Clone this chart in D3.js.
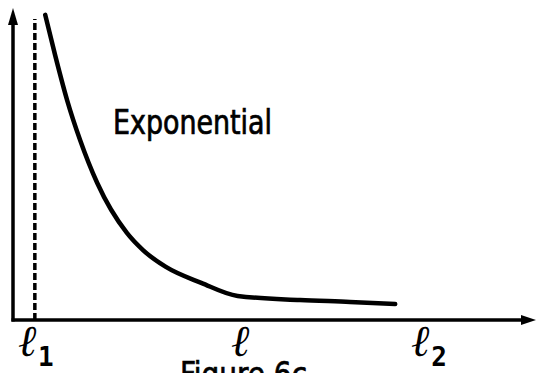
<!DOCTYPE html>
<html>
<head>
<meta charset="utf-8">
<script src="https://cdn.jsdelivr.net/npm/d3@7"></script>
<style>
  html, body { margin: 0; padding: 0; background: #fff; }
  svg { display: block; }
</style>
</head>
<body>
<svg id="chart" width="537" height="373"></svg>
<script>
// Sketch of an exponentially decaying distribution between l1 and l2
const curveX = [6.2, 8.1, 10.4, 12.9, 16.2, 21.9, 25.0, 29.4, 36.2, 43.2, 55.2, 64.8, 73.5];
const curveY = [97.8, 84.9, 70.5, 57.7, 43.9, 27.9, 22.4, 17.0, 11.9, 7.7, 6.4, 5.8, 5.1];
const lowerBound = 4.2;              // position of the dashed l1 line
const tickPos = [2.7, 43.7, 78.3];   // ℓ1, ℓ, ℓ2
const tickSub = ["1", "", "2"];
const curveLabel = "Exponential";
const caption = "Figure 6c";

const svg = d3.select("#chart");
const x = d3.scaleLinear().domain([0, 100]).range([13, 533]);
const y = d3.scaleLinear().domain([0, 100]).range([320, 8]);

const ink = "#000";

// axes
svg.append("line")
  .attr("x1", x(0)).attr("y1", y(0) + 1.5).attr("x2", x(0)).attr("y2", y(100) + 12)
  .attr("stroke", ink).attr("stroke-width", 3.5);
svg.append("line")
  .attr("x1", x(0) - 1.5).attr("y1", y(0)).attr("x2", x(100) - 10).attr("y2", y(0))
  .attr("stroke", ink).attr("stroke-width", 3.5);

// arrowheads
svg.append("path")
  .attr("d", `M${x(0)},${y(100)} L${x(0) - 5},${y(100) + 17} L${x(0) + 5},${y(100) + 17} Z`)
  .attr("fill", ink);
svg.append("path")
  .attr("d", `M${x(100) + 3},${y(0)} L${x(100) - 12},${y(0) - 5} L${x(100) - 12},${y(0) + 5} Z`)
  .attr("fill", ink);

// dashed lower bound
svg.append("line")
  .attr("x1", x(lowerBound)).attr("y1", y(0)).attr("x2", x(lowerBound)).attr("y2", y(96.5))
  .attr("stroke", ink).attr("stroke-width", 3.5)
  .attr("stroke-dasharray", "7,3");

// decay curve
const pts = curveX.map((d, i) => [d, curveY[i]]);
svg.append("path")
  .datum(pts)
  .attr("d", d3.line().x(d => x(d[0])).y(d => y(d[1])).curve(d3.curveMonotoneX))
  .attr("fill", "none")
  .attr("stroke", ink).attr("stroke-width", 4.5)
  .attr("stroke-linecap", "round");

// curve label
svg.append("text")
  .attr("x", 113).attr("y", 134)
  .attr("font-family", "DejaVu Sans Condensed, DejaVu Sans, sans-serif")
  .attr("font-size", 33)
  .attr("textLength", 159).attr("lengthAdjust", "spacingAndGlyphs")
  .attr("fill", ink)
  .attr("stroke", ink).attr("stroke-width", 0.7)
  .text(curveLabel);

// axis labels
const labels = svg.append("g").attr("fill", ink);
tickPos.forEach((p, i) => {
  labels.append("text")
    .attr("x", x(p)).attr("y", 356)
    .attr("text-anchor", "middle")
    .attr("font-family", "DejaVu Serif, serif")
    .attr("font-style", "italic")
    .attr("font-size", 44)
    .text("ℓ");
  if (tickSub[i]) {
    labels.append("text")
      .attr("x", x(p) + 11).attr("y", 366)
      .attr("font-family", "DejaVu Sans Mono, monospace")
      .attr("font-size", 26)
      .attr("font-weight", "bold")
      .text(tickSub[i]);
  }
});

// caption (partly below the visible area)
svg.append("text")
  .attr("x", 180).attr("y", 386)
  .attr("font-family", "DejaVu Sans Condensed, DejaVu Sans, sans-serif")
  .attr("font-size", 34)
  .attr("textLength", 127).attr("lengthAdjust", "spacingAndGlyphs")
  .attr("fill", ink)
  .attr("stroke", ink).attr("stroke-width", 0.7)
  .text(caption);
</script>
</body>
</html>
